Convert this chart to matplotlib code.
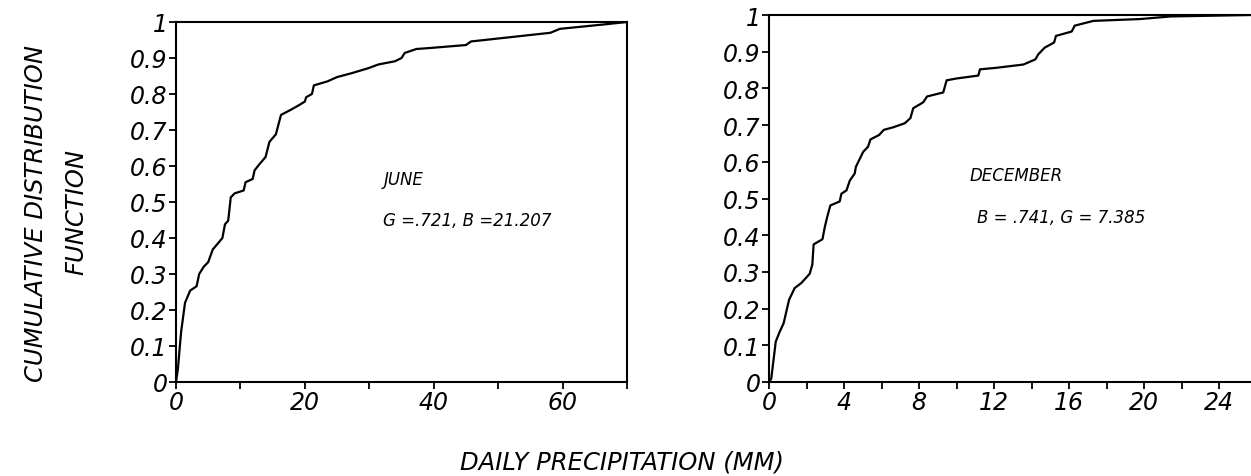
import matplotlib
matplotlib.use("Agg")
import matplotlib.pyplot as plt

june_x = [0, 0.3, 0.6, 0.8, 1.4, 2.2, 3.2, 3.6, 4.3, 5.0, 5.7, 6.6, 7.2, 7.6, 8.1,
          8.5, 9.1, 10.5, 10.8, 11.9, 12.2, 13.0, 13.9, 14.5, 15.5, 16.3, 17.8,
          18.9, 20.0, 20.2, 21.1, 21.4, 23.5, 25.0, 27.3, 29.9, 31.4, 34.0, 35.0,
          35.5, 37.3, 39.6, 45.0, 45.8, 48.4, 58.1, 59.6, 66.3, 70.0]
june_y = [0, 0.037, 0.10, 0.14, 0.22, 0.254, 0.266, 0.30, 0.32, 0.333, 0.368,
          0.387, 0.40, 0.438, 0.448, 0.513, 0.524, 0.532, 0.555, 0.564, 0.588,
          0.606, 0.625, 0.667, 0.688, 0.742, 0.756, 0.767, 0.779, 0.791, 0.80,
          0.824, 0.835, 0.847, 0.858, 0.872, 0.882, 0.891, 0.90, 0.914, 0.925,
          0.928, 0.936, 0.946, 0.951, 0.970, 0.981, 0.993, 1.0]

# December empirical CDF
dec_x = [0, 0.12, 0.36, 0.57, 0.78, 1.07, 1.37, 1.73, 2.17, 2.31, 2.38, 2.85,
         2.97, 3.10, 3.27, 3.77, 3.86, 4.13, 4.31, 4.57, 4.63, 5.02, 5.28, 5.41,
         5.87, 6.12, 6.62, 7.24, 7.54, 7.69, 8.22, 8.43, 9.29, 9.47, 10.0, 11.16,
         11.25, 12.1, 13.56, 14.2, 14.36, 14.7, 15.2, 15.3, 16.14, 16.3, 17.3,
         19.8, 21.4, 25.7]
dec_y = [0, 0.009, 0.11, 0.137, 0.16, 0.224, 0.256, 0.27, 0.295, 0.32, 0.375,
         0.389, 0.421, 0.449, 0.481, 0.492, 0.513, 0.522, 0.549, 0.568, 0.586,
         0.627, 0.641, 0.661, 0.673, 0.687, 0.694, 0.705, 0.719, 0.746, 0.762,
         0.778, 0.789, 0.822, 0.827, 0.835, 0.852, 0.856, 0.865, 0.879, 0.893,
         0.911, 0.925, 0.943, 0.955, 0.971, 0.984, 0.989, 0.996, 1.0]

yticks = [0, 0.1, 0.2, 0.3, 0.4, 0.5, 0.6, 0.7, 0.8, 0.9, 1]
ytick_txt = ["0", "0.1", "0.2", "0.3", "0.4", "0.5", "0.6", "0.7", "0.8", "0.9", "1"]

W, H = 1251, 477
fig = plt.figure(figsize=(W / 100, H / 100), dpi=100)

f_tick = dict(family="DejaVu Sans", style="italic", size=17)
f_note = dict(family="DejaVu Sans", style="italic", size=12)
f_lab = dict(family="DejaVu Sans", style="italic", size=17.5)


def style_axes(ax):
    for s in ax.spines.values():
        s.set_linewidth(1.5)
    ax.tick_params(direction="out", length=5, width=1.3, pad=1)
    ax.set_ylim(0, 1)
    ax.set_yticks(yticks)
    ax.set_yticklabels(ytick_txt, **f_tick)


# left panel: June
ax1 = fig.add_axes([176 / W, 1 - 383 / H, (627 - 176) / W, (383 - 23) / H])
ax1.plot(june_x, june_y, color="k", lw=1.6)
ax1.set_xlim(0, 70)
style_axes(ax1)
ax1.set_xticks(range(0, 71, 10))
ax1.set_xticklabels(["0", "", "20", "", "40", "", "60", ""], **f_tick)
ax1.text(32.2, 0.55, "JUNE", **f_note)
ax1.text(32.2, 0.435, "G =.721, B =21.207", **f_note)

# right panel: December
ax2 = fig.add_axes([769 / W, 1 - 383 / H, (W - 769) / W, (383 - 16) / H])
ax2.plot(dec_x, dec_y, color="k", lw=1.6)
ax2.set_xlim(0, 25.7)
style_axes(ax2)
ax2.spines["right"].set_visible(False)
ax2.set_xticks(range(0, 26, 2))
ax2.set_xticklabels([str(v) if v % 4 == 0 else "" for v in range(0, 26, 2)], **f_tick)
ax2.text(10.7, 0.55, "DECEMBER", **f_note)
ax2.text(11.1, 0.435, "B = .741, G = 7.385", **f_note)

# shared labels
fig.text(36 / W, 1 - 214 / H, "CUMULATIVE DISTRIBUTION", rotation=90,
         ha="center", va="center", **f_lab)
fig.text(76 / W, 1 - 212 / H, "FUNCTION", rotation=90,
         ha="center", va="center", **f_lab)
fig.text(622 / W, 1 - 463 / H, "DAILY PRECIPITATION (MM)",
         ha="center", va="center", **f_lab)

fig.savefig("out.png", dpi=100)
plt.close(fig)
